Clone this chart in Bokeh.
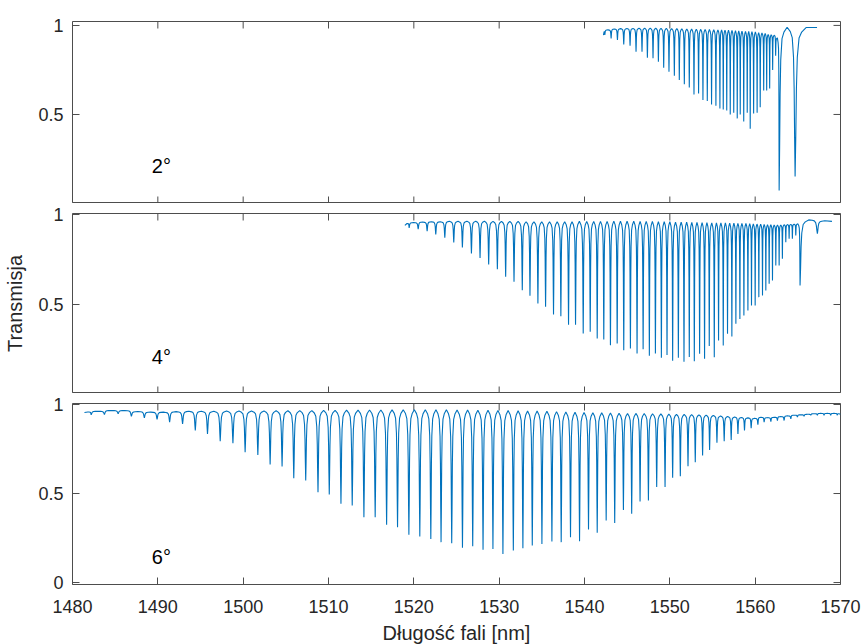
import math
from bokeh.plotting import figure
from bokeh.models import FixedTicker, Label, Range1d
from bokeh.layouts import column
from bokeh.embed import file_html
from bokeh.resources import INLINE

# ---------------- data ----------------
# x ticks
x_ticks = [1480, 1490, 1500, 1510, 1520, 1530, 1540, 1550, 1560, 1570]

# Panel 2 deg : dip centres (nm), dip minima, peak levels between dips
wl_dips_2 = [1542.38, 1543.12, 1543.86, 1544.60, 1545.34, 1546.04, 1546.74, 1547.37, 1548.03, 1548.66,
             1549.28, 1549.90, 1550.53, 1551.11, 1551.70, 1552.28, 1552.83, 1553.37, 1553.88, 1554.39,
             1554.89, 1555.40, 1555.87, 1556.26, 1556.67, 1557.08, 1557.49, 1557.90, 1558.25, 1558.66,
             1559.07, 1559.42, 1559.82, 1560.23, 1560.59, 1561.00, 1561.35, 1561.70, 1562.05, 1562.40,
             1562.81, 1564.68]
t_dips_2 = [0.946, 0.927, 0.918, 0.893, 0.886, 0.852, 0.852, 0.818, 0.815, 0.796,
            0.762, 0.740, 0.717, 0.693, 0.670, 0.652, 0.612, 0.618, 0.581, 0.575,
            0.556, 0.549, 0.534, 0.528, 0.522, 0.500, 0.510, 0.478, 0.500, 0.460,
            0.510, 0.420, 0.505, 0.510, 0.540, 0.635, 0.635, 0.646, 0.750, 0.830,
            0.073, 0.152]
t_peaks_2 = [0.965, 0.975, 0.980, 0.982, 0.983, 0.983, 0.984, 0.984, 0.984, 0.984, 0.983, 0.983,
             0.982, 0.982, 0.981, 0.980, 0.980, 0.979, 0.978, 0.978, 0.977, 0.976, 0.975,
             0.975, 0.974, 0.973, 0.972, 0.970, 0.970, 0.968, 0.967, 0.966, 0.965, 0.963, 0.960,
             0.958, 0.955, 0.950, 0.948, 0.945,
             0.930, 0.990, 0.988]
wl_ends_2 = [1542.22, 1567.25]
t_ends_2 = [0.945, 0.988]

# Panel 4 deg
wl_dips_4 = [1519.45, 1520.51, 1521.56, 1522.57, 1523.63, 1524.68, 1525.69, 1526.75, 1527.76, 1528.77,
             1529.79, 1530.76, 1531.74, 1532.71, 1533.61, 1534.54, 1535.44, 1536.37, 1537.23, 1538.13,
             1538.95, 1539.85, 1540.67, 1541.49, 1542.26, 1543.04, 1543.83, 1544.60, 1545.38, 1546.16,
             1546.87, 1547.60, 1548.31, 1549.01, 1549.67, 1550.33, 1551.00, 1551.66, 1552.28, 1552.87,
             1553.49, 1554.07, 1554.62, 1555.21, 1555.71, 1556.26, 1556.76, 1557.27, 1557.74, 1558.21,
             1558.68, 1559.15, 1559.57, 1560.00, 1560.43, 1560.86, 1561.25, 1561.64, 1562.03, 1562.42,
             1562.81, 1563.19, 1563.59, 1563.98, 1564.36, 1564.76, 1565.26, 1567.29]
t_dips_4 = [0.926, 0.918, 0.907, 0.889, 0.871, 0.844, 0.817, 0.783, 0.759, 0.722,
            0.696, 0.654, 0.626, 0.579, 0.548, 0.506, 0.487, 0.444, 0.435, 0.387,
            0.387, 0.339, 0.348, 0.311, 0.306, 0.274, 0.283, 0.246, 0.256, 0.228,
            0.252, 0.215, 0.228, 0.204, 0.219, 0.187, 0.204, 0.182, 0.209, 0.185,
            0.226, 0.198, 0.270, 0.207, 0.300, 0.272, 0.337, 0.322, 0.393, 0.420,
            0.439, 0.467, 0.494, 0.494, 0.541, 0.550, 0.578, 0.615, 0.633, 0.717,
            0.717, 0.754, 0.846, 0.865, 0.865, 0.883, 0.606, 0.893]
t_peaks_4 = [0.950,
             0.955, 0.958, 0.960, 0.960, 0.962, 0.962, 0.963, 0.963, 0.963, 0.962, 0.962, 0.962,
             0.962, 0.960, 0.960, 0.960, 0.960,
             0.960, 0.960, 0.960, 0.962, 0.962, 0.962, 0.962, 0.962, 0.963, 0.963, 0.963, 0.963,
             0.962, 0.962, 0.962, 0.960, 0.960, 0.960, 0.958, 0.958, 0.958, 0.956, 0.956,
             0.955, 0.955, 0.954, 0.954, 0.953, 0.953, 0.952, 0.952, 0.951, 0.950, 0.950, 0.949,
             0.948, 0.947, 0.946, 0.945, 0.944, 0.943, 0.942, 0.942, 0.942, 0.943,
             0.944, 0.945, 0.946, 0.948,
             0.970, 0.965]
wl_ends_4 = [1518.95, 1569.0]
t_ends_4 = [0.940, 0.962]

# Panel 6 deg
wl_dips_6 = [1482.19, 1483.74, 1485.35, 1486.90, 1488.42, 1489.91, 1491.38, 1492.90, 1494.39, 1495.82,
             1497.31, 1498.80, 1500.23, 1501.72, 1503.16, 1504.56, 1505.93, 1507.33, 1508.77, 1510.09,
             1511.46, 1512.78, 1514.15, 1515.47, 1516.81, 1518.09, 1519.42, 1520.70, 1521.99, 1523.19,
             1524.44, 1525.70, 1526.90, 1528.11, 1529.27, 1530.44, 1531.66, 1532.78, 1533.88, 1535.01,
             1536.18, 1537.27, 1538.36, 1539.42, 1540.47, 1541.49, 1542.54, 1543.54, 1544.56, 1545.53,
             1546.51, 1547.49, 1548.46, 1549.44, 1550.33, 1551.23, 1552.13, 1552.98, 1553.84, 1554.66,
             1555.52, 1556.37, 1557.19, 1557.98, 1558.75, 1559.53, 1560.32, 1561.05, 1561.84, 1562.61,
             1563.39, 1564.18, 1564.95, 1565.73, 1566.52, 1567.29, 1568.07, 1568.85, 1569.63]
t_dips_6 = [0.942, 0.944, 0.948, 0.933, 0.925, 0.916, 0.901, 0.891, 0.854, 0.835,
            0.794, 0.783, 0.732, 0.717, 0.663, 0.652, 0.586, 0.573, 0.507, 0.494,
            0.442, 0.433, 0.367, 0.367, 0.324, 0.311, 0.268, 0.258, 0.245, 0.227,
            0.221, 0.195, 0.204, 0.184, 0.189, 0.161, 0.180, 0.193, 0.208, 0.217,
            0.230, 0.227, 0.255, 0.232, 0.298, 0.279, 0.348, 0.335, 0.408, 0.386,
            0.455, 0.461, 0.536, 0.536, 0.588, 0.597, 0.653, 0.676, 0.713, 0.745,
            0.785, 0.794, 0.801, 0.835, 0.854, 0.867, 0.886, 0.901, 0.904, 0.910,
            0.910, 0.919, 0.929, 0.934, 0.940, 0.940, 0.940, 0.940, 0.940]
t_peaks_6 = [0.958,
             0.962, 0.966, 0.966, 0.960, 0.957, 0.957, 0.960, 0.962,
             0.962, 0.962, 0.963, 0.963, 0.964, 0.964, 0.965, 0.965, 0.966, 0.966, 0.967, 0.967,
             0.968, 0.968, 0.969, 0.969, 0.970, 0.970, 0.970, 0.970, 0.970, 0.970,
             0.969, 0.969, 0.968, 0.968, 0.967, 0.966, 0.965, 0.964, 0.963, 0.962,
             0.960, 0.958, 0.956, 0.955, 0.954, 0.953, 0.952, 0.951, 0.950, 0.950,
             0.949, 0.948, 0.947, 0.946, 0.945, 0.944, 0.943, 0.942, 0.940, 0.938,
             0.935, 0.932, 0.930, 0.927, 0.925, 0.922,
             0.928, 0.926, 0.928, 0.932, 0.936, 0.940,
             0.942, 0.945, 0.948, 0.950, 0.950, 0.950, 0.948]
wl_ends_6 = [1481.4, 1570.0]
t_ends_6 = [0.955, 0.945]

angle_labels = ["2°", "4°", "6°"]

# ---------------- drawing helpers ----------------
# dip profile template (style): distance from dip centre as a fraction of the
# spacing to the neighbour, and the fraction of the dip depth reached there
SHAPE_U = [0.5, 0.3, 0.18, 0.1, 0.06, 0.03]
SHAPE_F = [0.0, 0.03, 0.07, 0.2, 0.41, 0.74]

LINE = "#0072BD"
AX = "#262626"
BOX = "#4d4d4d"
FONT = "Liberation Sans"
TICK_LEN = 7


def trace(wl, td, tp, wl_ends, t_ends):
    xs, ys = [wl_ends[0]], [t_ends[0]]
    n = len(wl)
    for i in range(n):
        left = wl[i - 1] if i > 0 else wl_ends[0]
        right = wl[i + 1] if i < n - 1 else wl_ends[1]
        sl, sr = wl[i] - left, right - wl[i]
        bl, br = tp[i], tp[i + 1]
        if i == 0:
            xs.append(wl[i] - 0.5 * sl)
            ys.append(bl)
        for u, f in zip(SHAPE_U[1:], SHAPE_F[1:]):
            xs.append(wl[i] - u * sl)
            ys.append(bl - f * (bl - td[i]))
        xs.append(wl[i])
        ys.append(td[i])
        for u, f in zip(SHAPE_U[::-1], SHAPE_F[::-1]):
            xs.append(wl[i] + u * sr)
            ys.append(br - f * (br - td[i]))
    xs.append(wl_ends[1])
    ys.append(t_ends[1])
    return xs, ys


def style_axis(ax, ticks, standoff, overrides=None):
    ax.ticker = FixedTicker(ticks=ticks)
    ax.major_tick_in = TICK_LEN
    ax.major_tick_out = 0
    ax.minor_tick_in = 0
    ax.minor_tick_out = 0
    ax.axis_line_color = None
    ax.major_tick_line_color = BOX
    ax.major_tick_line_width = 1
    ax.major_label_text_font = FONT
    ax.major_label_text_color = AX
    ax.major_label_text_font_size = "18px"
    ax.major_label_standoff = standoff
    if overrides:
        ax.major_label_overrides = overrides


def style_label(ax, text, standoff):
    ax.axis_label = text
    ax.axis_label_text_font = FONT
    ax.axis_label_text_font_size = "20px"
    ax.axis_label_text_font_style = "normal"
    ax.axis_label_text_color = AX
    ax.axis_label_standoff = standoff


def panel(yr, frame_h, top_b, bot_b, yticks, xlabels, data, label_text, label_y, ylabel=None):
    p = figure(frame_width=768, frame_height=frame_h,
               x_range=Range1d(1480, 1570), y_range=Range1d(*yr),
               output_backend="svg", toolbar_location=None,
               x_axis_location="below" if xlabels else None,
               min_border_left=72, min_border_right=22,
               min_border_top=top_b, min_border_bottom=bot_b,
               background_fill_color="white", border_fill_color="white",
               outline_line_color=BOX, outline_line_width=1)
    p.grid.visible = False
    style_axis(p.yaxis[0], yticks, 9, {0: "0", 0.5: "0.5", 1: "1"})
    if ylabel:
        style_label(p.yaxis[0], ylabel, 9)
    if xlabels:
        style_axis(p.xaxis[0], x_ticks, 15)
        style_label(p.xaxis[0], "Długość fali [nm]", 6)

    # mirrored tick marks (top edge, right edge, and bottom edge where no axis)
    nx = len(x_ticks)
    p.ray(x=x_ticks, y=[yr[1]] * nx, length=TICK_LEN, length_units="screen",
          angle=-math.pi / 2, line_color=BOX, line_width=1)
    if not xlabels:
        p.ray(x=x_ticks, y=[yr[0]] * nx, length=TICK_LEN, length_units="screen",
              angle=math.pi / 2, line_color=BOX, line_width=1)
    p.ray(x=[1570] * len(yticks), y=yticks, length=TICK_LEN, length_units="screen",
          angle=math.pi, line_color=BOX, line_width=1)

    xs, ys = trace(*data)
    p.line(xs, ys, line_color=LINE, line_width=1.1)
    p.add_layout(Label(x=1489.3, y=label_y, text=label_text, text_font=FONT,
                       text_font_size="20px", text_color="black",
                       text_baseline="middle", text_align="left"))
    return p


p1 = panel((0.0, 1.022), 182, 21, 0, [0.5, 1], False,
           (wl_dips_2, t_dips_2, t_peaks_2, wl_ends_2, t_ends_2), angle_labels[0], 0.213)
p2 = panel((0.0056, 1.0056), 180, 10, 0, [0.5, 1], False,
           (wl_dips_4, t_dips_4, t_peaks_4, wl_ends_4, t_ends_4), angle_labels[1], 0.206,
           ylabel="Transmisja")
p3 = panel((-0.011, 1.0056), 181, 10, 58, [0, 0.5, 1], True,
           (wl_dips_6, t_dips_6, t_peaks_6, wl_ends_6, t_ends_6), angle_labels[2], 0.146)

layout = column(p1, p2, p3, spacing=0)
open("out.html", "w").write(file_html(layout, INLINE))
